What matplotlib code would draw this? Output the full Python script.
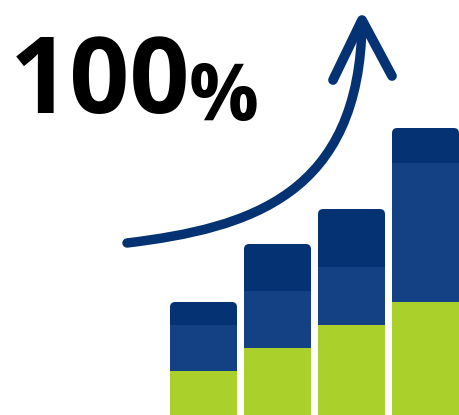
import matplotlib
matplotlib.use("Agg")
import matplotlib.pyplot as plt
from matplotlib.patches import FancyBboxPatch, PathPatch
from matplotlib.path import Path

# Stacked segment heights for the four growth bars
categories = ["Stage 1", "Stage 2", "Stage 3", "Stage 4"]
base_values = [44, 67, 90, 113]
middle_values = [46, 57, 58, 139]
top_values = [23, 47, 58, 35]

headline = "100"
headline_unit = "%"

# Rising trend arrow: cubic Bezier shaft and the two head strokes
arrow_shaft_x = [127, 250, 360, 362]
arrow_shaft_y = [243, 228, 195, 22]
arrow_head_x = [333, 362, 392]
arrow_head_y = [80, 20, 76]

GREEN = "#a9d02b"
MID_BLUE = "#134184"
DARK_BLUE = "#053272"

W, H = 459, 415
fig = plt.figure(figsize=(W / 100, H / 100), dpi=100)
fig.patch.set_facecolor("white")

# Bar axes: one unit per bar slot
ax = fig.add_axes([0, 0, 1, 1])
slot = 74.0
first_center = 203.5
ax.set_xlim(-first_center / slot, (W - first_center) / slot)
ax.set_ylim(0, H)
ax.axis("off")

pos = list(range(len(categories)))
width = 67 / slot
bottoms2 = [a + b for a, b in zip(base_values, middle_values)]

# Top segments with rounded upper corners, drawn first so the middle
# segment covers the rounded lower corners
for x, b, h in zip(pos, bottoms2, top_values):
    pad_y = 6
    box = FancyBboxPatch((x - width / 2, b - pad_y), width, h + pad_y,
                         boxstyle="round,pad=0,rounding_size=0.07",
                         mutation_aspect=slot,
                         facecolor=DARK_BLUE, edgecolor="none", zorder=1)
    ax.add_patch(box)

ax.bar(pos, middle_values, width=width, bottom=base_values,
       color=MID_BLUE, linewidth=0, zorder=2)
ax.bar(pos, base_values, width=width, color=GREEN, linewidth=0, zorder=3)

# Overlay axes in pixel coordinates for the headline and arrow
ov = fig.add_axes([0, 0, 1, 1], facecolor="none")
ov.set_xlim(0, W)
ov.set_ylim(H, 0)
ov.axis("off")

ov.text(10, 113, headline, fontsize=76, fontweight="bold",
        family=["Open Sans", "DejaVu Sans"], color="black",
        ha="left", va="baseline")
ov.text(189, 120, headline_unit, fontsize=56, fontweight="bold",
        family=["Open Sans", "DejaVu Sans"], color="black",
        ha="left", va="baseline")

shaft = Path(list(zip(arrow_shaft_x, arrow_shaft_y)),
             [Path.MOVETO, Path.CURVE4, Path.CURVE4, Path.CURVE4])
ov.add_patch(PathPatch(shaft, facecolor="none", edgecolor=DARK_BLUE,
                       linewidth=6.8, capstyle="round", joinstyle="round"))
ov.plot(arrow_head_x, arrow_head_y, color=DARK_BLUE, linewidth=7,
        solid_capstyle="round", solid_joinstyle="round")

fig.savefig("out.png", dpi=100, facecolor="white")
